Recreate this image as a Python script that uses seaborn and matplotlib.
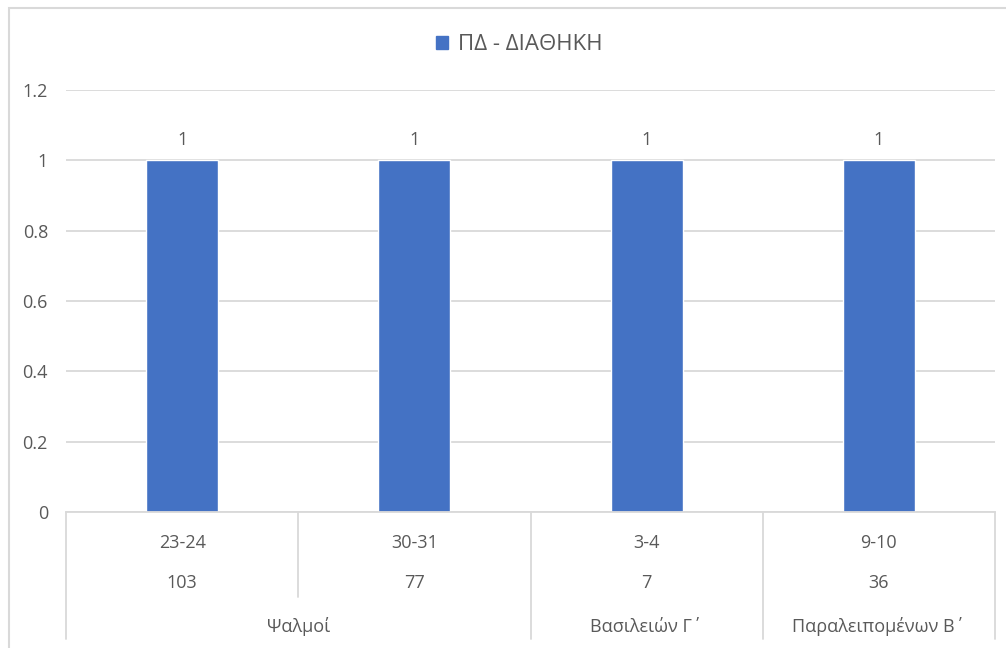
import matplotlib
matplotlib.use("Agg")
import matplotlib.pyplot as plt
from matplotlib.patches import Rectangle, Patch
from matplotlib.transforms import blended_transform_factory
import seaborn as sns
import pandas as pd

# δεδομένα
kefalaia = ["23-24", "30-31", "3-4", "9-10"]
stixoi = ["103", "77", "7", "36"]
timi = [1, 1, 1, 1]
vivlia = ["Ψαλμοί", "Βασιλειών Γ΄", "Παραλειπομένων Β΄"]
vivlia_plithos = [2, 1, 1]
seira = "ΠΔ - ΔΙΑΘΗΚΗ"
y_ticks = [0, 0.2, 0.4, 0.6, 0.8, 1, 1.2]

sns.set_theme(style="white")
plt.rcParams["font.family"] = ["Open Sans", "DejaVu Sans"]

W, H = 1006, 648
fig = plt.figure(figsize=(W / 100, H / 100), dpi=100)
ax = fig.add_axes([66 / W, 1 - 512 / H, (995 - 66) / W, (512 - 90) / H])

blue = "#4472C4"
grey_txt = "#595959"
grey_line = "#D9D9D9"
fs = 13

df = pd.DataFrame({"kef": kefalaia, "timi": timi})
sns.barplot(data=df, x="kef", y="timi", color=blue, width=0.31, ax=ax,
            saturation=1, order=kefalaia)

ax.set_xlim(-0.5, len(kefalaia) - 0.5)
ax.set_ylim(0, 1.2)
ax.set_yticks(y_ticks)
ax.set_yticklabels([f"{v:g}" for v in y_ticks], color=grey_txt, fontsize=fs)
ax.tick_params(axis="y", length=0, pad=13)
ax.set_xticks([])
ax.set_xlabel("")
ax.set_ylabel("")
ax.yaxis.grid(True, color=grey_line, linewidth=1.3)
ax.set_axisbelow(True)
for s in ["top", "right", "left"]:
    ax.spines[s].set_visible(False)
ax.spines["bottom"].set_color(grey_line)
ax.spines["bottom"].set_linewidth(1.3)

ax.bar_label(ax.containers[0], labels=[f"{v:g}" for v in timi],
             padding=8, color=grey_txt, fontsize=fs)

# πολυεπίπεδος άξονας κατηγοριών
tr = blended_transform_factory(ax.transData, ax.transAxes)
ah = 512 - 90
row1 = -(543 - 512) / ah
row2 = -(583 - 512) / ah
row3 = -(627 - 512) / ah
short_end = -(597 - 512) / ah
full_end = -(639 - 512) / ah

for i, (k, s) in enumerate(zip(kefalaia, stixoi)):
    ax.text(i, row1, k, transform=tr, ha="center", va="center",
            color=grey_txt, fontsize=fs, clip_on=False)
    ax.text(i, row2, s, transform=tr, ha="center", va="center",
            color=grey_txt, fontsize=fs, clip_on=False)

# όρια ομάδων
edges = [-0.5]
for n in vivlia_plithos:
    edges.append(edges[-1] + n)
start = -0.5
for name, n in zip(vivlia, vivlia_plithos):
    ax.text(start + n / 2, row3, name, transform=tr, ha="center", va="center",
            color=grey_txt, fontsize=fs, clip_on=False)
    start += n

for j in range(len(kefalaia) + 1):
    xpos = j - 0.5
    yend = full_end if xpos in edges else short_end
    ax.plot([xpos, xpos], [0, yend], transform=tr, color=grey_line,
            linewidth=1.3, clip_on=False)

# υπόμνημα
handle = Patch(facecolor=blue, edgecolor=blue)
fig.legend([handle], [seira], loc="center", bbox_to_anchor=(519 / W, 1 - 45 / H),
           frameon=False, fontsize=16, labelcolor=grey_txt,
           handlelength=0.55, handleheight=0.55, handletextpad=0.45)

# πλαίσιο γραφήματος
fig.patches.append(Rectangle((8.5 / W, -0.1), 1.2, 1.1 - 8.5 / H,
                             transform=fig.transFigure, fill=False,
                             edgecolor=grey_line, linewidth=1.5))

fig.savefig("out.png", dpi=100)
